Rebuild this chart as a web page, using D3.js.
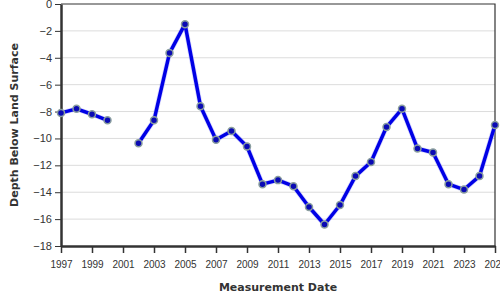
<!DOCTYPE html>
<html>
<head>
<meta charset="utf-8">
<script src="https://cdn.jsdelivr.net/npm/d3@7"></script>
<style>
  body { margin: 0; background: #fff; }
  svg { display: block; font-family: "DejaVu Sans", sans-serif; }
</style>
</head>
<body>
<div id="chart"></div>
<script>
const years = [1997, 1998, 1999, 2000, 2001, 2002, 2003, 2004, 2005, 2006, 2007, 2008, 2009, 2010,
  2011, 2012, 2013, 2014, 2015, 2016, 2017, 2018, 2019, 2020, 2021, 2022, 2023, 2024, 2025]
// null = no measurement that year
const depths = [-8.1, -7.8, -8.2, -8.65, null, -10.35, -8.65, -3.65, -1.5, -7.6, -10.1, -9.45, -10.6, -13.4,
  -13.1, -13.55, -15.1, -16.4, -14.95, -12.8, -11.75, -9.15, -7.8, -10.75, -11.05, -13.4, -13.8, -12.8, -9.0]
const xTicks = [1997, 1999, 2001, 2003, 2005, 2007, 2009, 2011, 2013, 2015, 2017, 2019, 2021, 2023, 2025]
const yTicks = [0, -2, -4, -6, -8, -10, -12, -14, -16, -18]

const width = 500
const height = 300
const margin = { top: 4, right: 5, bottom: 54, left: 61 }
const innerWidth = width - margin.left - margin.right
const innerHeight = height - margin.top - margin.bottom

const data = years.map((y, i) => ({ year: y, value: depths[i] }))

const svg = d3.select("#chart").append("svg")
  .attr("width", width)
  .attr("height", height)

const g = svg.append("g")
  .attr("transform", "translate(" + margin.left + "," + margin.top + ")")

const x = d3.scaleLinear().domain([1997, 2025]).range([0, innerWidth])
const y = d3.scaleLinear().domain([-18, 0]).range([innerHeight, 0])

// gridlines
g.selectAll(".grid")
  .data(yTicks.filter(d => d !== 0 && d !== -18))
  .enter()
  .append("line")
  .attr("x1", 0)
  .attr("x2", innerWidth)
  .attr("y1", d => y(d))
  .attr("y2", d => y(d))
  .attr("stroke", "#dcdcdc")
  .attr("stroke-width", 1)

// frame top / right
g.append("path")
  .attr("d", "M0," + y(0) + "H" + innerWidth + "V" + innerHeight)
  .attr("fill", "none")
  .attr("stroke", "#333")
  .attr("stroke-width", 1.2)

// axes
const xAxis = g.append("g")
  .attr("transform", "translate(0," + innerHeight + ")")
  .call(d3.axisBottom(x).tickValues(xTicks).tickFormat(d => d).tickSize(7).tickSizeOuter(0))
xAxis.select(".domain").attr("stroke", "#333").attr("stroke-width", 2.5)
xAxis.selectAll(".tick line").attr("stroke", "#333").attr("stroke-width", 1.5)
xAxis.selectAll("text").attr("fill", "#333").style("font-size", "10px").attr("dy", "1.2em")

const yAxis = g.append("g")
  .call(d3.axisLeft(y).tickValues(yTicks).tickSize(6).tickSizeOuter(0))
yAxis.select(".domain").attr("stroke", "#333").attr("stroke-width", 2.5)
yAxis.selectAll(".tick line").attr("stroke", "#333").attr("stroke-width", 1)
yAxis.selectAll("text").attr("fill", "#333").style("font-size", "11px")

// line
const line = d3.line()
  .defined(d => d.value !== null)
  .x(d => x(d.year))
  .y(d => y(d.value))

g.append("path")
  .datum(data)
  .attr("d", line)
  .attr("fill", "none")
  .attr("stroke", "#8c8cf5")
  .attr("stroke-width", 5)
  .attr("stroke-opacity", 0.35)
  .attr("stroke-linejoin", "round")

g.append("path")
  .datum(data)
  .attr("d", line)
  .attr("fill", "none")
  .attr("stroke", "#0000e6")
  .attr("stroke-width", 3.5)
  .attr("stroke-linejoin", "round")

// points
g.selectAll(".point")
  .data(data.filter(d => d.value !== null))
  .enter()
  .append("circle")
  .attr("cx", d => x(d.year))
  .attr("cy", d => y(d.value))
  .attr("r", 3.5)
  .attr("fill", "#0a0ab4")
  .attr("stroke", "#8a9e9e")
  .attr("stroke-width", 1.5)

// axis titles
svg.append("text")
  .attr("transform", "rotate(-90)")
  .attr("x", -(margin.top + innerHeight / 2))
  .attr("y", 18)
  .attr("text-anchor", "middle")
  .attr("fill", "#333")
  .style("font-size", "11px")
  .style("font-weight", "bold")
  .text("Depth Below Land Surface")

svg.append("text")
  .attr("x", margin.left + innerWidth / 2)
  .attr("y", 291)
  .attr("text-anchor", "middle")
  .attr("fill", "#333")
  .style("font-size", "11px")
  .style("font-weight", "bold")
  .text("Measurement Date")
</script>
</body>
</html>
